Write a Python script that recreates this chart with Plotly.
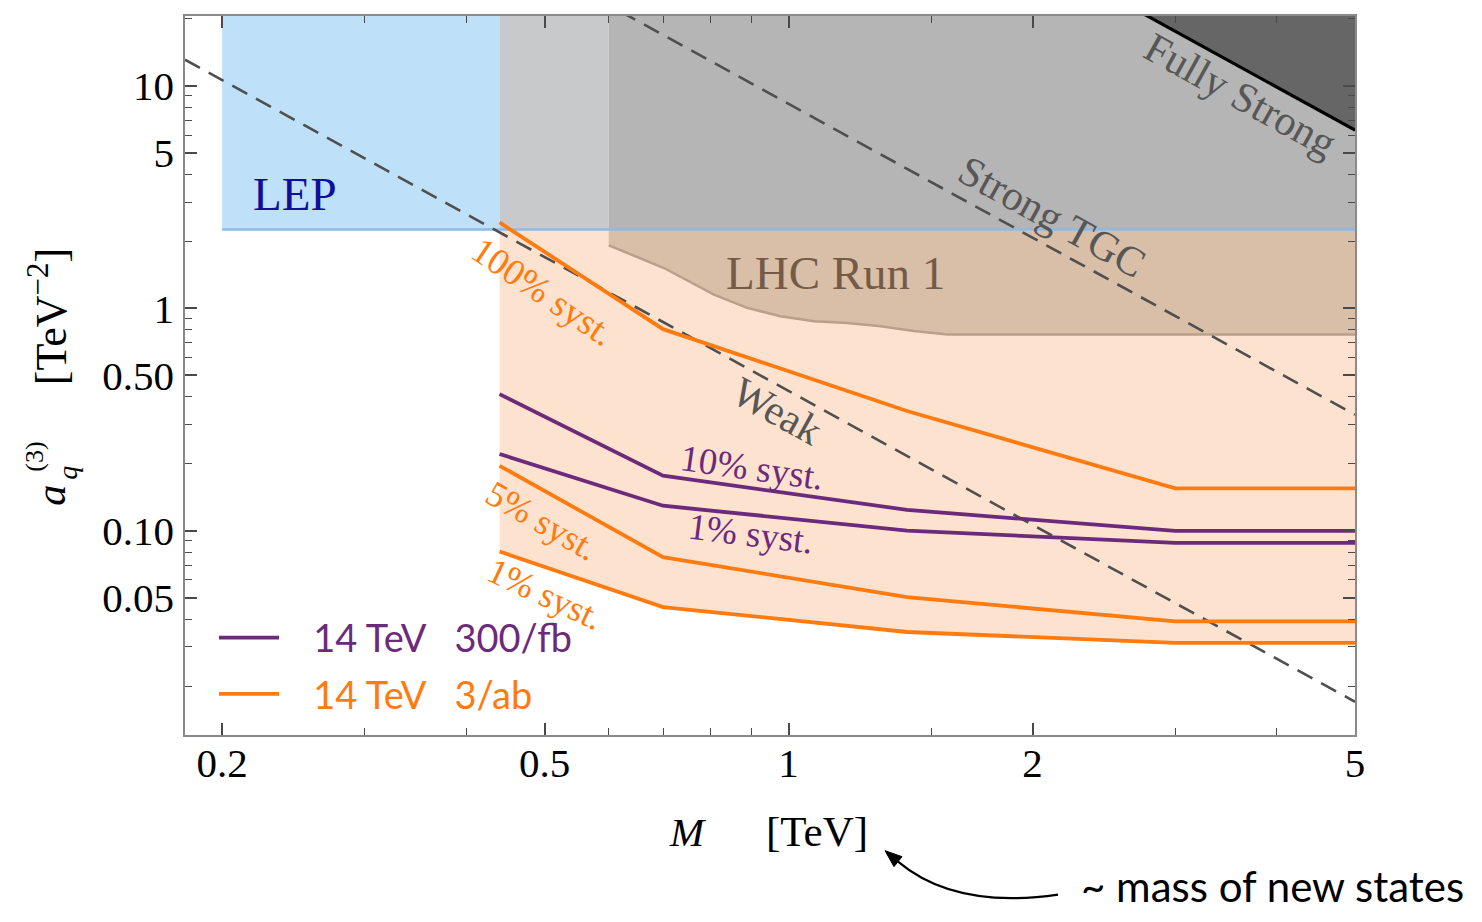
import math
import plotly.graph_objects as go

# ---------------- data ----------------
mass = [0.44, 0.7, 1.4, 3.0, 5.0]
orange_100 = [2.43, 0.805, 0.345, 0.155, 0.155]
purple_10 = [0.411, 0.1765, 0.124, 0.0997, 0.0997]
purple_1 = [0.221, 0.1294, 0.100, 0.088, 0.088]
orange_5 = [0.1956, 0.0760, 0.0502, 0.0391, 0.0391]
orange_1 = [0.0805, 0.0453, 0.035, 0.0313, 0.0313]

lhc_mass = [0.6, 0.702, 0.809, 0.889, 0.977, 1.075, 1.182, 1.299, 1.428, 1.57, 5.0]
lhc_bound = [1.917, 1.516, 1.152, 1.003, 0.921, 0.874, 0.859, 0.830, 0.789, 0.762, 0.762]

lep_bound = 2.26
lep_mass = [0.2, 0.44]
gray_light_mass = [0.44, 0.6]
gray_mass = [0.6, 5.0]
band_top = 40.0

weak_mass = [0.18, 5.0]
weak_val = [13.1, 0.017]
strong_tgc_mass = [0.62, 5.0]
strong_tgc_val = [21.6, 0.332]
fully_strong_mass = [2.72, 5.0]
fully_strong_val = [21.4, 6.32]

x_ticks = [0.2, 0.5, 1, 2, 5]
x_tick_text = ["0.2", "0.5", "1", "2", "5"]
x_minor = [0.3, 0.4, 0.6, 0.7, 0.8, 0.9, 1.5, 3, 4]
y_ticks = [0.05, 0.1, 0.5, 1, 5, 10]
y_tick_text = ["0.05", "0.10", "0.50", "1", "5", "10"]
y_minor = [0.02, 0.03, 0.04, 0.06, 0.07, 0.08, 0.09, 0.2, 0.3, 0.4,
           0.6, 0.7, 0.8, 0.9, 2, 3, 4, 6, 7, 8, 9, 20]

x_range = [0.18, 5.0]
y_range = [0.01205, 20.6]

# ---------------- layout geometry ----------------
PAGE_OFF = 8  # default body margin of the html page
W, H = 1482 - 2 * PAGE_OFF, 922 - 2 * PAGE_OFF
# plot area in page pixels: left 185, right 1355, top 14, bottom 735
ML = 185 - PAGE_OFF
MT = 14 - PAGE_OFF
MR = W - (1355 - PAGE_OFF)
MB = H - (735 - PAGE_OFF)
PW, PH = W - ML - MR, H - MT - MB

C_BLUE = "#bfe0f9"
C_BLUE_LINE = "#8cbbe8"
C_GRAY_LIGHT = "#c8c9cb"
C_GRAY = "#b5b5b5"
C_DARK = "#666666"
C_PEACH = "#fde3cf"
C_LHC = "#d9bea8"
C_LHC_LINE = "#baa08b"
C_ORANGE = "#ff7b10"
C_PURPLE = "#6c2a7d"
C_DASH = "#4f4f4f"
SERIF = "Liberation Serif"
SANS = "Lato"


def px(x, y):
    """page pixel position -> paper coordinates"""
    fx, fy = x - PAGE_OFF, y - PAGE_OFF
    return (fx - ML) / PW, (H - MB - fy) / PH


fig = go.Figure()


def poly(xs, ys, color):
    fig.add_trace(go.Scatter(x=xs, y=ys, mode="lines", fill="toself",
                             fillcolor=color, line=dict(width=0),
                             hoverinfo="skip", showlegend=False))


# filled regions
poly(mass + [mass[-1], mass[0]], orange_1 + [lep_bound, lep_bound], C_PEACH)
poly(lhc_mass + [lhc_mass[-1], lhc_mass[0]], lhc_bound + [lep_bound, lep_bound], C_LHC)
poly([lep_mass[0], lep_mass[1], lep_mass[1], lep_mass[0]],
     [lep_bound, lep_bound, band_top, band_top], C_BLUE)
poly([gray_light_mass[0], gray_light_mass[1], gray_light_mass[1], gray_light_mass[0]],
     [lep_bound, lep_bound, band_top, band_top], C_GRAY_LIGHT)
poly([gray_mass[0], gray_mass[1], gray_mass[1], gray_mass[0]],
     [lep_bound, lep_bound, band_top, band_top], C_GRAY)
poly([fully_strong_mass[0], fully_strong_mass[1], fully_strong_mass[1]],
     [fully_strong_val[0], fully_strong_val[1], band_top], C_DARK)


def line(xs, ys, color, width, dash=None, name=None, legend=False, rank=None, group=None):
    fig.add_trace(go.Scatter(x=xs, y=ys, mode="lines",
                             line=dict(color=color, width=width, dash=dash),
                             name=name, showlegend=legend, hoverinfo="skip",
                             legendgroup=group,
                             legendrank=rank if rank else 1000))


line([lep_mass[0], gray_mass[1]], [lep_bound, lep_bound], C_BLUE_LINE, 2.5)
line(lhc_mass, lhc_bound, C_LHC_LINE, 2.5)
line(fully_strong_mass, fully_strong_val, "black", 3.2)
line(weak_mass, weak_val, C_DASH, 2.6, dash="17px,10px")
line(strong_tgc_mass, strong_tgc_val, C_DASH, 2.6, dash="17px,10px")

SP = "\u00a0"
line(mass, orange_100, C_ORANGE, 3.8,
     name="<span style='color:%s'>%s14 TeV%s3/ab</span>" % (C_ORANGE, SP * 3, SP * 3),
     legend=True, rank=2, group="g2")
line(mass, purple_10, C_PURPLE, 3.8,
     name="<span style='color:%s'>%s14 TeV%s300/fb</span>" % (C_PURPLE, SP * 3, SP * 3),
     legend=True, rank=1, group="g1")
line(mass, purple_1, C_PURPLE, 3.8)
line(mass, orange_5, C_ORANGE, 3.8)
line(mass, orange_1, C_ORANGE, 3.8)

# ---------------- annotations ----------------
ann = []


def text(t, x, y, size, color, angle=0, family=SERIF, yanchor="middle"):
    xp, yp = px(x, y)
    ann.append(dict(text=t, x=xp, y=yp, xref="paper", yref="paper",
                    showarrow=False, textangle=angle, xanchor="center",
                    yanchor=yanchor, font=dict(family=family, size=size, color=color)))


text("LEP", 295, 192, 47, "#0f0f9c")
text("LHC Run 1", 835, 272, 47, "#745b48")
text("Strong TGC", 1052, 216, 42, "#575757", 29)
text("Fully Strong", 1240, 93, 42, "#575757", 29)
text("Weak", 777, 410, 42, "#575757", 29)
text("100% syst.", 543, 290, 37, C_ORANGE, 34)
text("10% syst.", 752, 467, 37, C_PURPLE, 8)
text("1% syst.", 750, 533, 37, C_PURPLE, 7)
text("5% syst.", 542, 520, 36, C_ORANGE, 30)
text("1% syst.", 545, 594, 36, C_ORANGE, 25)

# axis titles
text("<i>a</i>", 51, 495, 42, "black", -90)
text("(3)", 35, 456, 26, "black", -90)
text("<i>q</i>", 68, 472, 28, "black", -90)
text("[TeV<sup>\u22122</sup>]", 48, 316, 44, "black", -90)
text("<i>M</i>", 688, 832, 41, "black")
text("[TeV]", 817, 832, 43, "black")
text("~ mass of new states", 1272, 913, 42, "black", 0, SANS, "bottom")

# curved arrow pointing at the axis title
x0, y0 = px(1058, 895)
xc, yc = px(955, 910)
x1, y1 = px(898, 862)
tip = px(885, 851)
c1 = px(902, 857)
c2 = px(894, 867)
shapes = [
    dict(type="path", xref="paper", yref="paper",
         path="M %f,%f Q %f,%f %f,%f" % (x0, y0, xc, yc, x1, y1),
         line=dict(color="black", width=2.2)),
    dict(type="path", xref="paper", yref="paper",
         path="M %f,%f L %f,%f L %f,%f Z" % (tip[0], tip[1], c1[0], c1[1], c2[0], c2[1]),
         fillcolor="black", line=dict(color="black", width=1)),
]

axis_common = dict(type="log", showgrid=False, zeroline=False, showline=True,
                   linecolor="#8a8a8a", linewidth=1.5, mirror="ticks",
                   ticks="inside", ticklen=12, tickwidth=1.5, tickcolor="#4a4a4a",
                   tickfont=dict(family=SERIF, size=41, color="black"))

lx, ly = px(214, 606)
fig.update_layout(
    width=W, height=H,
    margin=dict(l=ML, r=MR, t=MT, b=MB),
    plot_bgcolor="white", paper_bgcolor="white",
    xaxis=dict(range=[math.log10(x_range[0]), math.log10(x_range[1])],
               tickmode="array", tickvals=x_ticks, ticktext=x_tick_text,
               ticklabelstandoff=-9,
               minor=dict(tickmode="array", tickvals=x_minor, ticks="inside",
                          ticklen=7, tickwidth=1.2, tickcolor="#4a4a4a", showgrid=False),
               **axis_common),
    yaxis=dict(range=[math.log10(y_range[0]), math.log10(y_range[1])],
               tickmode="array", tickvals=y_ticks, ticktext=y_tick_text,
               ticklabelstandoff=1,
               minor=dict(tickmode="array", tickvals=y_minor, ticks="inside",
                          ticklen=7, tickwidth=1.2, tickcolor="#4a4a4a", showgrid=False),
               **axis_common),
    legend=dict(x=lx, y=ly, xanchor="left", yanchor="top",
                bgcolor="rgba(0,0,0,0)", font=dict(family=SANS, size=38),
                itemwidth=60, tracegroupgap=4),
    annotations=ann,
    shapes=shapes,
)

fig.write_html("out.html")
